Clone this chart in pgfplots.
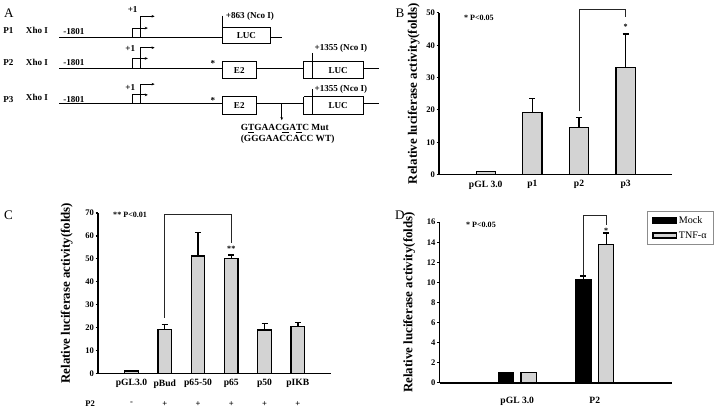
\documentclass[border=0pt]{standalone}
\usepackage{fontspec}
\setmainfont{Liberation Serif}
\usepackage{pgfplots}
\pgfplotsset{compat=1.18}
\usetikzlibrary{arrows.meta}
\definecolor{barg}{RGB}{211,211,211}
\newcommand{\fs}[1]{\fontsize{#1}{#1}\selectfont}
\pgfplotsset{
  panel/.style={
    scale only axis, anchor=south west,
    axis x line=bottom, axis y line=left,
    axis line style={-, line width=1.5bp, black},
    tick align=outside, major tick length=2.5bp,
    ytick style={line width=1.2bp, black},
    xtick style={draw=none},
    yticklabel style={font=\bfseries\fs{8.5}, inner sep=1.5bp},
    xticklabel style={font=\bfseries\fs{9.5}},
    /pgf/number format/assume math mode=true,
    ylabel={Relative luciferase activity(folds)},
    ylabel style={font=\bfseries\fs{12.8}, anchor=center},
    clip=false,
  },
  gbar/.style={ybar, bar shift=0, fill=barg, draw=black, line width=1.3bp, bar width=0.41,
    error bars/y dir=plus, error bars/y explicit,
    error bars/error bar style={line width=1.4bp, black},
    error bars/error mark options={rotate=90, line width=1.4bp, mark size=3bp, black}},
  brk/.style={black!85, line width=0.8bp, forget plot},
  ln/.style={black, line width=1bp},
}
\begin{document}
\begin{tikzpicture}
% ---------- overlay: panel A and annotations ----------
\begin{axis}[at={(0,0)}, anchor=south west, scale only axis, width=714bp, height=405bp,
  xmin=0, xmax=714, ymin=0, ymax=405, y dir=reverse, hide axis, clip=false]
% panel letters
\node[font=\fs{13}] at (axis cs:12.7,12.7) {A};
\node[font=\fs{13}] at (axis cs:399,12.7) {B};
\node[font=\fs{13}] at (axis cs:12.3,211.7) {C};
\node[font=\fs{13}] at (axis cs:399,211.7) {D};
% P values
\node[font=\bfseries\fs{8}] at (axis cs:477,17) {* P<0.05};
\node[font=\bfseries\fs{8}] at (axis cs:132.5,211.7) {** P<0.01};
\node[font=\bfseries\fs{8}] at (axis cs:479,221.7) {* P<0.05};
% row labels
\node[font=\bfseries\fs{9}] at (axis cs:12.3,30) {P1};
\node[font=\bfseries\fs{9}] at (axis cs:40.5,30) {Xho I};
\node[font=\bfseries\fs{9}] at (axis cs:77,30.7) {-1801};
\node[font=\bfseries\fs{9}] at (axis cs:12.3,61) {P2};
\node[font=\bfseries\fs{9}] at (axis cs:40.5,61) {Xho I};
\node[font=\bfseries\fs{9}] at (axis cs:77,61.3) {-1801};
\node[font=\bfseries\fs{9}] at (axis cs:12.3,98.3) {P3};
\node[font=\bfseries\fs{9}] at (axis cs:40.5,95.7) {Xho I};
\node[font=\bfseries\fs{9}] at (axis cs:77,98.3) {-1801};
% P1
\addplot[ln] coordinates {(62.3,36.7) (224,36.7)};
\addplot[ln] coordinates {(224,15) (224,42.7) (270.7,42.7) (270.7,26.7) (224,26.7)};
\addplot[ln] coordinates {(270.7,36.7) (282.7,36.7)};
\node[font=\bfseries\fs{9}] at (axis cs:247.3,34.7) {LUC};
\node[font=\bfseries\fs{9}, anchor=west, inner sep=0pt] at (axis cs:227,15.7) {+863 (Nco I)};
\addplot[ln, -{Stealth[length=3bp,width=2.6bp]}] coordinates {(135.3,36.7) (135.3,27.3) (150,27.3)};
\addplot[ln, -{Stealth[length=3bp,width=2.6bp]}] coordinates {(142.7,36.7) (142.7,15.7) (156.7,15.7)};
\node[font=\bfseries\fs{9}] at (axis cs:135,9) {+1};
% P2
\addplot[ln] coordinates {(62.3,67.3) (223.3,67.3)};
\addplot[ln] coordinates {(223.3,60.3) (257.3,60.3) (257.3,77.3) (223.3,77.3) (223.3,60.3)};
\addplot[ln] coordinates {(257.3,67.3) (304,67.3)};
\addplot[ln] coordinates {(304,60.3) (363.3,60.3) (363.3,77.3) (304,77.3) (304,60.3)};
\addplot[ln] coordinates {(312.7,51.7) (312.7,77.3)};
\addplot[ln] coordinates {(363.3,67.3) (378.3,67.3)};
\node[font=\bfseries\fs{9}] at (axis cs:240.3,68.8) {E2};
\node[font=\bfseries\fs{9}] at (axis cs:338,68.8) {LUC};
\node[font=\bfseries\fs{9}] at (axis cs:214.3,62) {*};
\node[font=\bfseries\fs{9}, anchor=west, inner sep=0pt] at (axis cs:314.5,47.7) {+1355 (Nco I)};
\addplot[ln, -{Stealth[length=3bp,width=2.6bp]}] coordinates {(135.3,67.3) (135.3,57.3) (150,57.3)};
\addplot[ln, -{Stealth[length=3bp,width=2.6bp]}] coordinates {(142.7,67.3) (142.7,46.7) (156.7,46.7)};
\node[font=\bfseries\fs{9}] at (axis cs:132.7,47.3) {+1};
% P3
\addplot[ln] coordinates {(62.3,102.3) (223.3,102.3)};
\addplot[ln] coordinates {(223.3,95.3) (257.3,95.3) (257.3,112.7) (223.3,112.7) (223.3,95.3)};
\addplot[ln] coordinates {(257.3,102.3) (304,102.3)};
\addplot[ln] coordinates {(304,95.3) (363.3,95.3) (363.3,112.7) (304,112.7) (304,95.3)};
\addplot[ln] coordinates {(312.7,87.3) (312.7,112.7)};
\addplot[ln] coordinates {(363.3,102.3) (378.3,102.3)};
\node[font=\bfseries\fs{9}] at (axis cs:240.3,104) {E2};
\node[font=\bfseries\fs{9}] at (axis cs:338,104) {LUC};
\node[font=\bfseries\fs{9}] at (axis cs:214.3,98.5) {*};
\node[font=\bfseries\fs{9}, anchor=west, inner sep=0pt] at (axis cs:314.5,88.3) {+1355 (Nco I)};
\addplot[ln, -{Stealth[length=3bp,width=2.6bp]}] coordinates {(135.3,102.3) (135.3,93.3) (150,93.3)};
\addplot[ln, -{Stealth[length=3bp,width=2.6bp]}] coordinates {(142.7,102.3) (142.7,82.7) (156.7,82.7)};
\node[font=\bfseries\fs{9}] at (axis cs:132.7,86) {+1};
\addplot[ln, -{Stealth[length=3bp,width=2.6bp]}] coordinates {(282.3,102.3) (282.3,118.3)};
\node[font=\bfseries\fs{9.3}, anchor=west, inner sep=0pt] at (axis cs:241.7,126.7) {G\underline{T}GAAC\underline{G}A\underline{T}C Mut};
\node[font=\bfseries\fs{9.3}, anchor=west, inner sep=0pt] at (axis cs:241.7,137.3) {(GGGAACCACC WT)};
\end{axis}
% ---------- panel B ----------
\begin{axis}[panel, at={(437.7bp,233bp)}, width=230.3bp, height=159.7bp,
  xmin=0, xmax=5, ymin=0, ymax=50, ytick={0,10,...,50},
  xtick={1,2,3,4}, xticklabels={pGL 3.0,p1,p2,p3},
  ylabel style={at={(axis description cs:-0.109,0.5)}}]
\addplot[gbar] coordinates {(1,1) +- (0,0) (2,19.1) +- (0,4.5) (3,14.5) +- (0,3.2) (4,33.1) +- (0,10.4)};
\addplot[brk] coordinates {(3,19.5) (3,51.1) (4,51.1) (4,48.7)};
\node[font=\bfseries\fs{8}] at (axis cs:4,45.8) {*};
\end{axis}
% ---------- panel C ----------
\begin{axis}[panel, at={(101bp,36.7bp)}, width=230bp, height=158.3bp,
  xmin=0, xmax=7, ymin=0, ymax=70, ytick={0,10,...,70},
  xtick={1,2,3,4,5,6}, xticklabels={pGL3.0,pBud,p65-50,p65,p50,pIKB},
  ylabel style={at={(axis description cs:-0.135,0.5)}}]
\addplot[gbar] coordinates {(1,1) +- (0,0) (2,19.2) +- (0,2.0) (3,51.3) +- (0,10.3) (4,50.0) +- (0,1.7) (5,18.9) +- (0,2.9) (6,20.5) +- (0,1.6)};
\addplot[brk] coordinates {(2,24.3) (2,69.3) (4,69.3) (4,56.8)};
\node[font=\bfseries\fs{8}] at (axis cs:4,54.5) {**};
\node[font=\bfseries\fs{8.5}] at (axis cs:-0.24,-13.3) {P2};
\node[font=\bfseries\fs{8.5}] at (axis cs:1,-13.3) {-};
\node[font=\bfseries\fs{8.5}] at (axis cs:2,-13.3) {+};
\node[font=\bfseries\fs{8.5}] at (axis cs:3,-13.3) {+};
\node[font=\bfseries\fs{8.5}] at (axis cs:4,-13.3) {+};
\node[font=\bfseries\fs{8.5}] at (axis cs:5,-13.3) {+};
\node[font=\bfseries\fs{8.5}] at (axis cs:6,-13.3) {+};
\end{axis}
% ---------- panel D ----------
\begin{axis}[panel, at={(438.3bp,27.3bp)}, width=229.7bp, height=158.7bp,
  xmin=0, xmax=3, ymin=0, ymax=16, ytick={0,2,...,16},
  xtick={1,2}, xticklabels={pGL 3.0,P2},
  xticklabel style={yshift=-8bp},
  ylabel style={at={(axis description cs:-0.131,0.5)}},
  legend style={at={(0.891,1.069)}, anchor=north west, draw=black!45, line width=0.6bp,
    font=\fs{10}, inner xsep=5bp, inner ysep=3bp, row sep=2.5bp, cells={anchor=west}},
  legend image code/.code={\draw[#1] (0bp,-2.5bp) rectangle (23bp,2.5bp);}]
\addplot[gbar, fill=black, bar width=0.196] coordinates {(0.852,1) +- (0,0) (1.852,10.29) +- (0,0.36)};
\addlegendentry{Mock}
\addplot[gbar, bar width=0.196] coordinates {(1.148,1) +- (0,0) (2.148,13.78) +- (0,1.14)};
\addlegendentry{TNF-α}
\addplot[brk] coordinates {(1.852,10.7) (1.852,16.7) (2.148,16.7) (2.148,15.7)};
\node[font=\bfseries\fs{8}] at (axis cs:2.148,15.1) {*};
\end{axis}
\end{tikzpicture}
\end{document}
